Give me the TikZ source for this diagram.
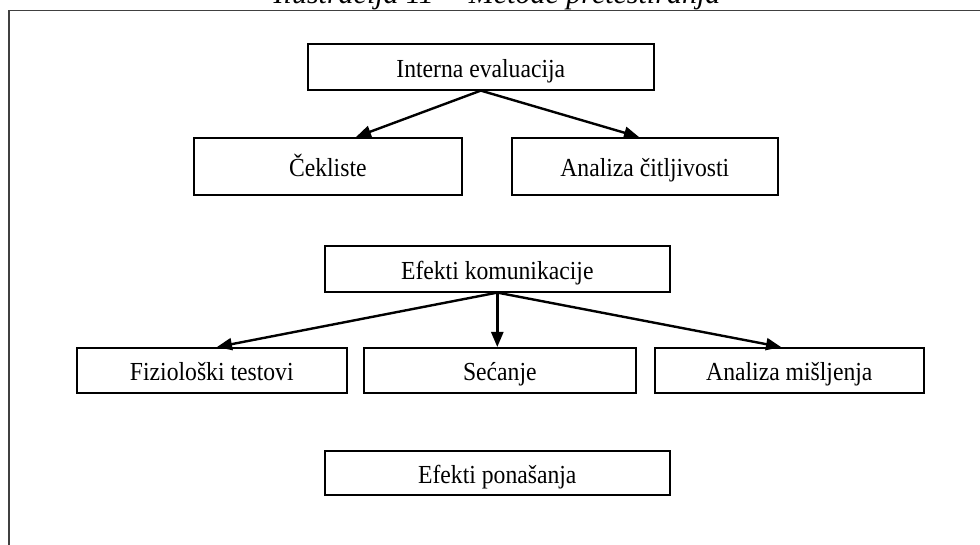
\documentclass[tikz,border=0pt]{standalone}
\usepackage{fontspec}
\setmainfont[FakeStretch=0.91]{Liberation Serif}
\newfontfamily\headfont{Liberation Serif}
\usetikzlibrary{arrows.meta}
\begin{document}
\begin{tikzpicture}[x=1pt,y=-1pt,
  box/.style={draw=black,line width=1.6pt,inner sep=0pt,anchor=north west,
    text height=21pt,text depth=0pt,font=\fontsize{26}{30}\selectfont},
  link/.style={line width=2.4pt,-{Triangle[length=15pt,width=12pt]}},
  frame/.style={draw=black!75,line width=1.4pt}]
% page area
\useasboundingbox (0,0) rectangle (980,545);
% heading, cut by the top edge of the page
\node[font=\fontsize{30}{34}\headfont\itshape,anchor=base,inner sep=0pt] (title) at (497,3.5)
  {Ilustracija 11 -- Metode pretestiranja};
% outer frame, running off the right and bottom edges
\draw[frame] (9,560) -- (9,10.7) -- (1000,10.7);
% boxes: corner, width and height
\node[box,minimum width=346pt,minimum height=46pt] (ie) at (307,43) {Interna evaluacija};
\node[box,minimum width=268pt,minimum height=57pt] (ck) at (193,137) {Čekliste};
\node[box,minimum width=266pt,minimum height=57pt] (ac) at (511,137) {Analiza čitljivosti};
\node[box,minimum width=345pt,minimum height=46pt] (ek) at (324,245) {Efekti komunikacije};
\node[box,minimum width=270pt,minimum height=45pt] (ft) at (76,347) {Fiziološki testovi};
\node[box,minimum width=272pt,minimum height=45pt] (se) at (363,347) {Sećanje};
\node[box,minimum width=269pt,minimum height=45pt] (am) at (654,347) {Analiza mišljenja};
\node[box,minimum width=345pt,minimum height=44pt] (ep) at (324,450) {Efekti ponašanja};
% connectors
\draw[link] (ie.south) -- (ck.north -| 356,0);
\draw[link] (ie.south) -- (ac.north -| 639,0);
\draw[link] (ek.south) -- (ft.north -| 217,0);
\draw[link] (ek.south) -- (se.north -| ek.south);
\draw[link] (ek.south) -- (am.north -| 781,0);
\end{tikzpicture}
\end{document}
